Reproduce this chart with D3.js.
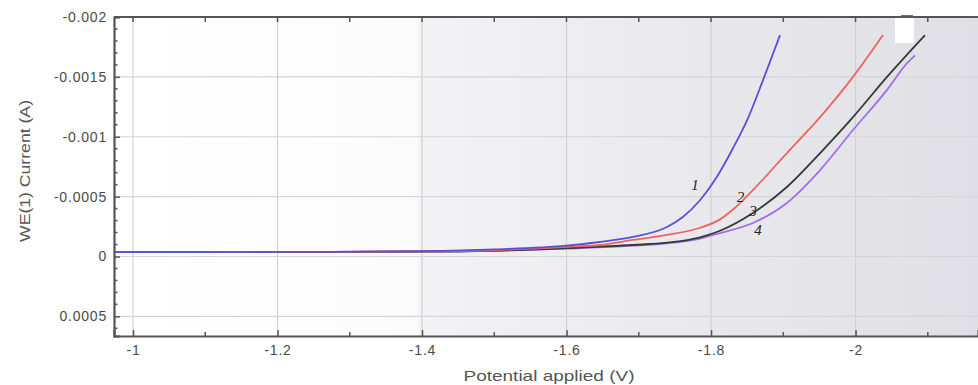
<!DOCTYPE html>
<html>
<head>
<meta charset="utf-8">
<script src="https://cdn.jsdelivr.net/npm/d3@7"></script>
<style>
  body { margin: 0; background: #ffffff; }
  text { font-family: "Liberation Sans", Arial, sans-serif; }
</style>
</head>
<body>
<div id="chart"></div>
<script>
// curve data (potential in V, current in A)
var v1 = [-0.975, -1.1, -1.2, -1.3, -1.4, -1.5, -1.6, -1.646, -1.692, -1.739, -1.761, -1.785, -1.808, -1.830, -1.850, -1.872, -1.8955];
var i1 = [-0.000037, -0.000037, -0.000038, -0.00004, -0.000045, -0.00006, -0.00009, -0.000121, -0.000163, -0.000246, -0.00033, -0.000472, -0.000664, -0.0009, -0.001139, -0.001473, -0.001849];

var v2 = [-0.975, -1.2, -1.4, -1.5, -1.6, -1.646, -1.692, -1.739, -1.785, -1.8125, -1.830, -1.858, -1.905, -1.951, -1.9965, -2.038];
var i2 = [-0.000037, -0.000038, -0.000042, -0.000052, -0.00008, -0.000096, -0.000138, -0.00018, -0.00024, -0.00031, -0.00039, -0.000555, -0.000864, -0.001164, -0.0015, -0.001849];

var v3 = [-0.975, -1.2, -1.4, -1.5, -1.6, -1.692, -1.739, -1.785, -1.8125, -1.858, -1.905, -1.951, -1.9965, -2.0436, -2.0962];
var i3 = [-0.000037, -0.000038, -0.00004, -0.000048, -0.00007, -0.000096, -0.000115, -0.00016, -0.000215, -0.000363, -0.00058, -0.000864, -0.001164, -0.0015, -0.001849];

var v4 = [-0.975, -1.2, -1.4, -1.5, -1.6, -1.692, -1.739, -1.785, -1.8125, -1.858, -1.905, -1.951, -1.9965, -2.0436, -2.0713, -2.0824];
var i4 = [-0.000037, -0.000038, -0.00004, -0.000047, -0.000065, -0.00009, -0.00011, -0.00015, -0.000196, -0.00028, -0.000447, -0.000722, -0.001056, -0.001391, -0.001615, -0.00168];

var seriesColors = ["#5a50dc", "#ec6464", "#333a38", "#a070ec"];
var curveLabels = ["1", "2", "3", "4"];
var labelPos = [[-1.7778, -0.00060], [-1.8408, -0.00050], [-1.858, -0.00038], [-1.865, -0.00022]];

var xTicks = [-1, -1.2, -1.4, -1.6, -1.8, -2];
var yTicks = [-0.002, -0.0015, -0.001, -0.0005, 0, 0.0005];

var W = 978, H = 385;
var pLeft = 114, pTop = 17, pBottom = 336, pRight = 978;

var svg = d3.select("#chart").append("svg").attr("width", W).attr("height", H);

var x = d3.scaleLinear().domain([-0.9737, -2.1695]).range([pLeft, pRight]);
var y = d3.scaleLinear().domain([0.000664, -0.002]).range([pBottom, pTop]);

// tick labels use a plain hyphen like the original
var fmt = d => String(+d.toPrecision(6));

// plot background, white on the left and greying to the right
var grad = svg.append("defs").append("linearGradient").attr("id", "bg")
  .attr("x1", "0%").attr("x2", "100%").attr("y1", "0%").attr("y2", "0%");
grad.append("stop").attr("offset", "0%").attr("stop-color", "#ffffff");
grad.append("stop").attr("offset", "35%").attr("stop-color", "#fbfbfb");
grad.append("stop").attr("offset", "35.5%").attr("stop-color", "#f3f3f5");
grad.append("stop").attr("offset", "100%").attr("stop-color", "#dfdfe5");

svg.append("rect").attr("x", pLeft).attr("y", pTop)
  .attr("width", pRight - pLeft).attr("height", pBottom - pTop)
  .attr("fill", "url(#bg)");

// grid
svg.append("g").selectAll("line").data(xTicks).join("line")
  .attr("x1", d => x(d)).attr("x2", d => x(d))
  .attr("y1", pTop).attr("y2", pBottom)
  .attr("stroke", "#d2d2d6").attr("stroke-width", 1.2);
svg.append("g").selectAll("line").data(yTicks).join("line")
  .attr("x1", pLeft).attr("x2", pRight)
  .attr("y1", d => y(d)).attr("y2", d => y(d))
  .attr("stroke", "#d6d6da").attr("stroke-width", 1.2);

// curves
var line = d3.line().x(d => x(d[0])).y(d => y(d[1])).curve(d3.curveMonotoneX);
var allV = [v1, v2, v3, v4], allI = [i1, i2, i3, i4];
svg.append("clipPath").attr("id", "clip").append("rect")
  .attr("x", pLeft).attr("y", pTop).attr("width", pRight - pLeft).attr("height", pBottom - pTop);

[3, 2, 1, 0].forEach(function (k) {
  var pts = allV[k].map((v, j) => [v, allI[k][j]]);
  svg.append("path").datum(pts)
    .attr("d", line)
    .attr("fill", "none")
    .attr("stroke", seriesColors[k])
    .attr("stroke-width", 1.8)
    .attr("clip-path", "url(#clip)");
});

// curve numbers
svg.append("g").selectAll("text").data(curveLabels).join("text")
  .attr("x", (d, k) => x(labelPos[k][0]))
  .attr("y", (d, k) => y(labelPos[k][1]))
  .attr("text-anchor", "middle")
  .attr("dominant-baseline", "central")
  .style("font-family", "'Liberation Serif', 'Times New Roman', serif")
  .style("font-style", "italic")
  .style("font-size", "15px")
  .attr("fill", "#222")
  .text(d => d);

// small white box from the legend, top right
svg.append("rect").attr("x", 895).attr("y", 18).attr("width", 19).attr("height", 25).attr("fill", "#ffffff");
svg.append("rect").attr("x", 901).attr("y", 15).attr("width", 12).attr("height", 3).attr("fill", "#6a6aa8");

// axes
var axisColor = "#555";
var xBottom = d3.axisBottom(x).tickValues(xTicks).tickSize(-6).tickPadding(9).tickFormat(fmt);
var gx = svg.append("g").attr("transform", "translate(0," + pBottom + ")").call(xBottom);
var xMinor = [-1.1, -1.3, -1.5, -1.7, -1.9, -2.1];
svg.append("g").selectAll("line").data(xMinor).join("line")
  .attr("x1", d => x(d)).attr("x2", d => x(d))
  .attr("y1", pBottom).attr("y2", pBottom - 4)
  .attr("stroke", axisColor).attr("stroke-width", 1.5);
svg.append("g").selectAll("line").data(xTicks.concat(xMinor)).join("line")
  .attr("x1", d => x(d)).attr("x2", d => x(d))
  .attr("y1", pTop).attr("y2", pTop + 5)
  .attr("stroke", axisColor).attr("stroke-width", 1.5);

var yLeft = d3.axisLeft(y).tickValues(yTicks).tickSize(-6).tickPadding(7).tickFormat(fmt);
var gy = svg.append("g").attr("transform", "translate(" + pLeft + ",0)").call(yLeft);
var yMinor = d3.range(-19, 7).filter(k => k % 5 !== 0).map(k => k * 0.0001);
svg.append("g").selectAll("line").data(yMinor).join("line")
  .attr("x1", pLeft).attr("x2", pLeft + 3.5)
  .attr("y1", d => y(d)).attr("y2", d => y(d))
  .attr("stroke", axisColor).attr("stroke-width", 1.5);

[gx, gy].forEach(function (g) {
  g.select(".domain").attr("stroke", axisColor).attr("stroke-width", 2.2);
  g.selectAll(".tick line").attr("stroke", axisColor).attr("stroke-width", 1.5);
  g.selectAll(".tick text").attr("fill", "#4a4a4a").style("font-size", "14px")
    .style("letter-spacing", "0.8px")
    .style("font-family", "'Liberation Sans', Arial, sans-serif");
});
svg.append("line").attr("x1", pLeft).attr("x2", pRight).attr("y1", pTop).attr("y2", pTop)
  .attr("stroke", axisColor).attr("stroke-width", 2.2);

// axis titles
svg.append("text").attr("x", 549).attr("y", 381).attr("text-anchor", "middle")
  .attr("fill", "#555").style("font-size", "15px")
  .attr("textLength", 171).attr("lengthAdjust", "spacingAndGlyphs")
  .text("Potential applied (V)");
svg.append("text").attr("transform", "translate(30,171) rotate(-90)").attr("text-anchor", "middle")
  .attr("fill", "#555").style("font-size", "15px")
  .attr("textLength", 142).attr("lengthAdjust", "spacingAndGlyphs")
  .text("WE(1) Current (A)");
</script>
</body>
</html>
